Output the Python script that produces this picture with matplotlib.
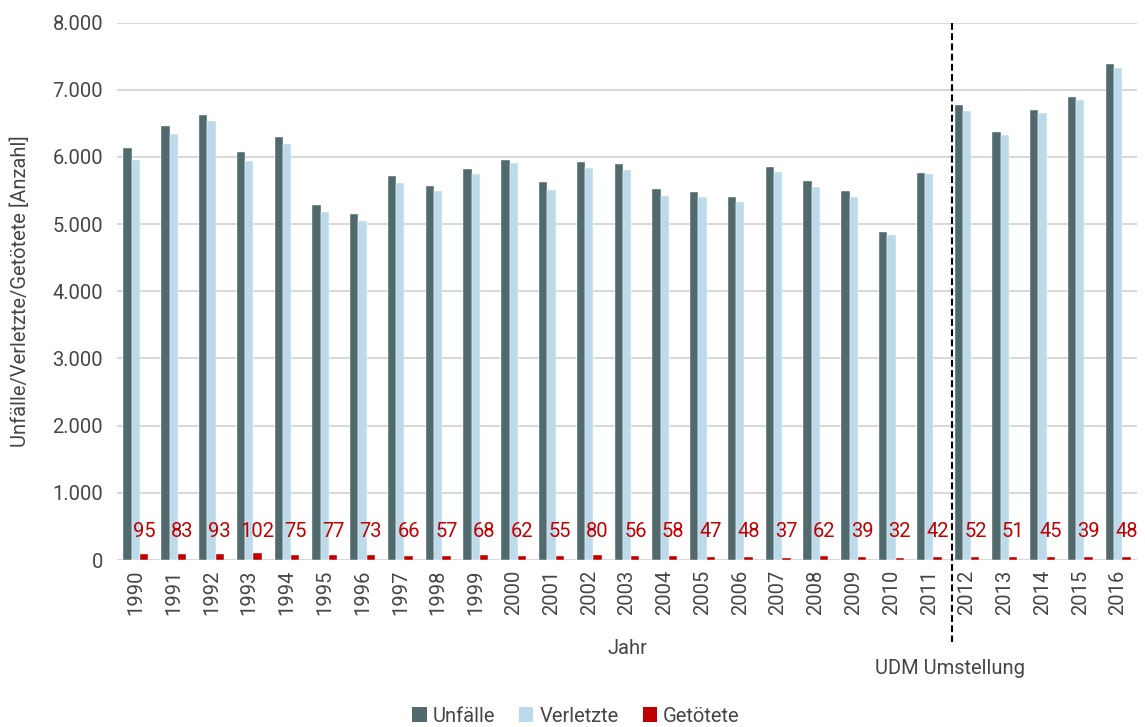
import matplotlib
matplotlib.use("Agg")
import matplotlib.pyplot as plt
import numpy as np
from matplotlib.patches import Patch

years = [str(y) for y in range(1990, 2017)]
unfaelle = [6130, 6455, 6620, 6070, 6295, 5280, 5155, 5710, 5565, 5820, 5960, 5620, 5925,
            5895, 5520, 5475, 5410, 5850, 5640, 5485, 4875, 5755, 6765, 6370, 6705, 6890, 7380]
verletzte = [5950, 6345, 6540, 5945, 6190, 5185, 5045, 5610, 5495, 5750, 5905, 5500, 5835,
             5800, 5415, 5405, 5330, 5770, 5550, 5405, 4830, 5745, 6685, 6330, 6650, 6845, 7325]
getoetete = [95, 83, 93, 102, 75, 77, 73, 66, 57, 68, 62, 55, 80, 56, 58, 47, 48, 37, 62, 39,
             32, 42, 52, 51, 45, 39, 48]
series_names = ["Unfälle", "Verletzte", "Getötete"]
colors = ["#506A6E", "#BDDAEB", "#C00000"]
yticks = [0, 1000, 2000, 3000, 4000, 5000, 6000, 7000, 8000]
ytick_labels = ["0", "1.000", "2.000", "3.000", "4.000", "5.000", "6.000", "7.000", "8.000"]

plt.rcParams['font.family'] = ['Roboto', 'DejaVu Sans']
txt = "#454545"

fig = plt.figure(figsize=(11.45, 7.27), dpi=100)
ax = fig.add_axes([117/1145, 1 - 560/727, (1137 - 117)/1145, (560 - 22.5)/727])

x = np.arange(len(years))
w = 0.22
for off, vals, c in zip([-w, 0, w], [unfaelle, verletzte, getoetete], colors):
    ax.bar(x + off, vals, width=w, color=c, edgecolor="white", linewidth=0.3, zorder=3)

for xi, v in zip(x, getoetete):
    ax.text(xi + w, 420, str(v), color="#C00000", ha="center", va="center", fontsize=14.5,
            zorder=4)

ax.set_xlim(-0.5, len(years) - 0.5)
ax.set_ylim(0, 8000)
ax.set_yticks(yticks)
ax.set_yticklabels(ytick_labels)
ax.set_xticks(x)
ax.set_xticklabels(years, rotation=90)
ax.tick_params(axis="both", length=0, labelsize=14.5, colors=txt)
ax.tick_params(axis="x", pad=7)
ax.tick_params(axis="y", pad=10)
ax.grid(axis="y", color="#D9D9D9", linewidth=1.5, zorder=0)
for s in ax.spines.values():
    s.set_visible(False)

ax.set_ylabel("Unfälle/Verletzte/Getötete [Anzahl]", fontsize=14.5, color=txt)
ax.yaxis.set_label_coords(-0.085, 0.5)

# UDM change line
ax.plot([21.6, 21.6], [1.0, -0.153], transform=ax.get_xaxis_transform(), color="black",
        lw=1.5, linestyle=(0, (3.3, 1.6)), clip_on=False, zorder=5)

fig.text(627/1145, 1 - 649/727, "Jahr", ha="center", va="center", fontsize=14.5, color=txt)
fig.text(950/1145, 1 - 668/727, "UDM Umstellung", ha="center", va="center", fontsize=14.5,
         color=txt)

handles = [Patch(facecolor=c, edgecolor="none") for c in colors]
fig.legend(handles, series_names, loc="center", bbox_to_anchor=(576/1145, 1 - 716/727), ncol=3,
           frameon=False, fontsize=14.5, handlelength=0.7, handleheight=0.7,
           handletextpad=0.3, columnspacing=1.2, labelcolor=txt)

fig.savefig("out.png", dpi=100)
